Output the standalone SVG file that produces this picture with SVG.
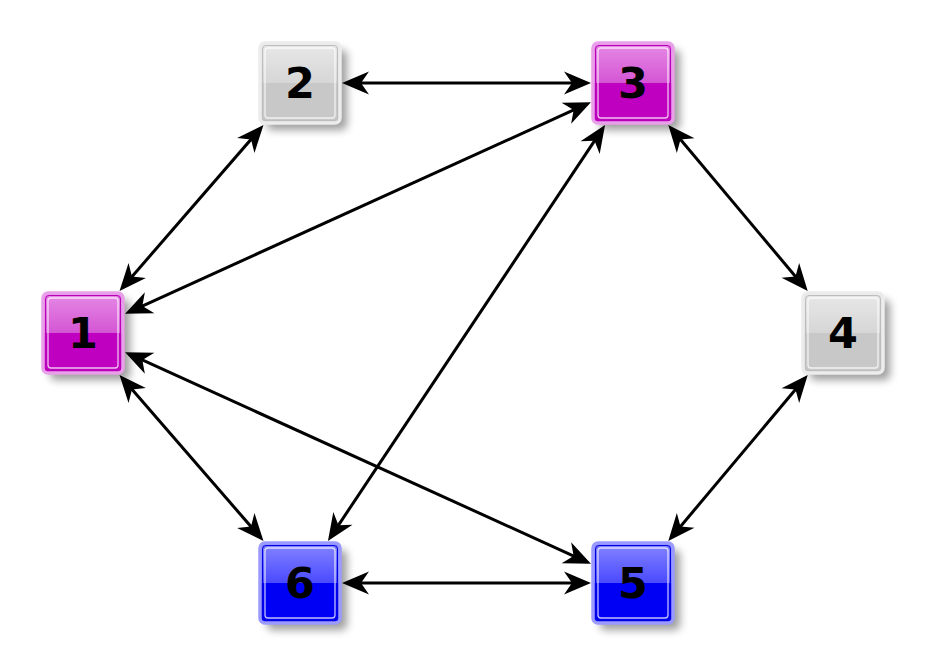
<svg xmlns="http://www.w3.org/2000/svg" width="928" height="667" viewBox="0 0 928 667">
<defs>
<style>
.edge{stroke:#000;stroke-width:3;fill:none;marker-start:url(#ah);marker-end:url(#ah)}
.lbl{font-family:"DejaVu Sans","Liberation Sans",sans-serif;font-weight:bold;font-size:43px;text-anchor:middle;fill:#000}
.inner{fill:none;stroke:#fff;stroke-opacity:0.75;stroke-width:1.3}
.mag .box{fill:url(#gMag);stroke:#e8a0e8}
.blu .box{fill:url(#gBlu);stroke:#9a9aff}
.gry .box{fill:url(#gGry);stroke:#ececec}
.box{stroke-width:3.5}
.edgeline{fill:none;stroke-width:1}
.mag .edgeline{stroke:#b800b8}
.blu .edgeline{stroke:#0000e0}
.gry .edgeline{stroke:#bdbdbd}
.shadow{fill:#000;opacity:0.38;filter:url(#blur)}
</style>
<filter id="blur" x="-30%" y="-30%" width="160%" height="160%"><feGaussianBlur stdDeviation="4"/></filter>
<linearGradient id="gMag" x1="0" y1="0" x2="0" y2="1">
<stop offset="0" stop-color="#e68ae6"/><stop offset="0.5" stop-color="#d455d4"/><stop offset="0.5" stop-color="#c000c0"/><stop offset="1" stop-color="#c000c0"/>
</linearGradient>
<linearGradient id="gBlu" x1="0" y1="0" x2="0" y2="1">
<stop offset="0" stop-color="#8585ff"/><stop offset="0.5" stop-color="#4a4aff"/><stop offset="0.5" stop-color="#0000f5"/><stop offset="1" stop-color="#0000f5"/>
</linearGradient>
<linearGradient id="gGry" x1="0" y1="0" x2="0" y2="1">
<stop offset="0" stop-color="#e8e8e8"/><stop offset="0.5" stop-color="#d6d6d6"/><stop offset="0.5" stop-color="#c8c8c8"/><stop offset="1" stop-color="#c8c8c8"/>
</linearGradient>
<marker id="ah" viewBox="-30 -13 32 26" refX="-5" refY="0" markerWidth="32" markerHeight="26" markerUnits="userSpaceOnUse" orient="auto-start-reverse">
<path d="M0,0 L-27,-11.5 L-19,0 L-27,11.5 Z" fill="#000"/>
</marker>
</defs>
<g id="shadows">
<rect class="shadow" x="50" y="300" width="80" height="80" rx="5"/>
<rect class="shadow" x="267" y="50" width="80" height="80" rx="5"/>
<rect class="shadow" x="600" y="50" width="80" height="80" rx="5"/>
<rect class="shadow" x="810" y="300" width="80" height="80" rx="5"/>
<rect class="shadow" x="600" y="550" width="80" height="80" rx="5"/>
<rect class="shadow" x="267" y="550" width="80" height="80" rx="5"/>
</g>
<g id="edges">
<line class="edge" x1="122.8" y1="287.2" x2="260.2" y2="128.8"/>
<line class="edge" x1="129.6" y1="311.8" x2="586.4" y2="104.2"/>
<line class="edge" x1="347" y1="83" x2="586" y2="83"/>
<line class="edge" x1="671.5" y1="128.8" x2="804.5" y2="287.2"/>
<line class="edge" x1="602.3" y1="129.2" x2="330.7" y2="536.8"/>
<line class="edge" x1="122.8" y1="378.8" x2="260.2" y2="537.2"/>
<line class="edge" x1="129.6" y1="354.2" x2="586.4" y2="561.8"/>
<line class="edge" x1="804.5" y1="378.8" x2="671.5" y2="537.2"/>
<line class="edge" x1="347" y1="583" x2="586" y2="583"/>
</g>
<g id="node1" class="mag">
<rect class="box" x="43" y="293" width="80" height="80" rx="5"/>
<rect class="edgeline" x="45.5" y="295.5" width="75" height="75" rx="3.5"/>
<rect class="inner" x="48" y="298" width="70" height="70" rx="3"/>
<text class="lbl" x="83" y="348">1</text>
</g>
<g id="node2" class="gry">
<rect class="box" x="260" y="43" width="80" height="80" rx="5"/>
<rect class="edgeline" x="262.5" y="45.5" width="75" height="75" rx="3.5"/>
<rect class="inner" x="265" y="48" width="70" height="70" rx="3"/>
<text class="lbl" x="300" y="98">2</text>
</g>
<g id="node3" class="mag">
<rect class="box" x="593" y="43" width="80" height="80" rx="5"/>
<rect class="edgeline" x="595.5" y="45.5" width="75" height="75" rx="3.5"/>
<rect class="inner" x="598" y="48" width="70" height="70" rx="3"/>
<text class="lbl" x="633" y="98">3</text>
</g>
<g id="node4" class="gry">
<rect class="box" x="803" y="293" width="80" height="80" rx="5"/>
<rect class="edgeline" x="805.5" y="295.5" width="75" height="75" rx="3.5"/>
<rect class="inner" x="808" y="298" width="70" height="70" rx="3"/>
<text class="lbl" x="843" y="348">4</text>
</g>
<g id="node5" class="blu">
<rect class="box" x="593" y="543" width="80" height="80" rx="5"/>
<rect class="edgeline" x="595.5" y="545.5" width="75" height="75" rx="3.5"/>
<rect class="inner" x="598" y="548" width="70" height="70" rx="3"/>
<text class="lbl" x="633" y="598">5</text>
</g>
<g id="node6" class="blu">
<rect class="box" x="260" y="543" width="80" height="80" rx="5"/>
<rect class="edgeline" x="262.5" y="545.5" width="75" height="75" rx="3.5"/>
<rect class="inner" x="265" y="548" width="70" height="70" rx="3"/>
<text class="lbl" x="300" y="598">6</text>
</g>
</svg>
